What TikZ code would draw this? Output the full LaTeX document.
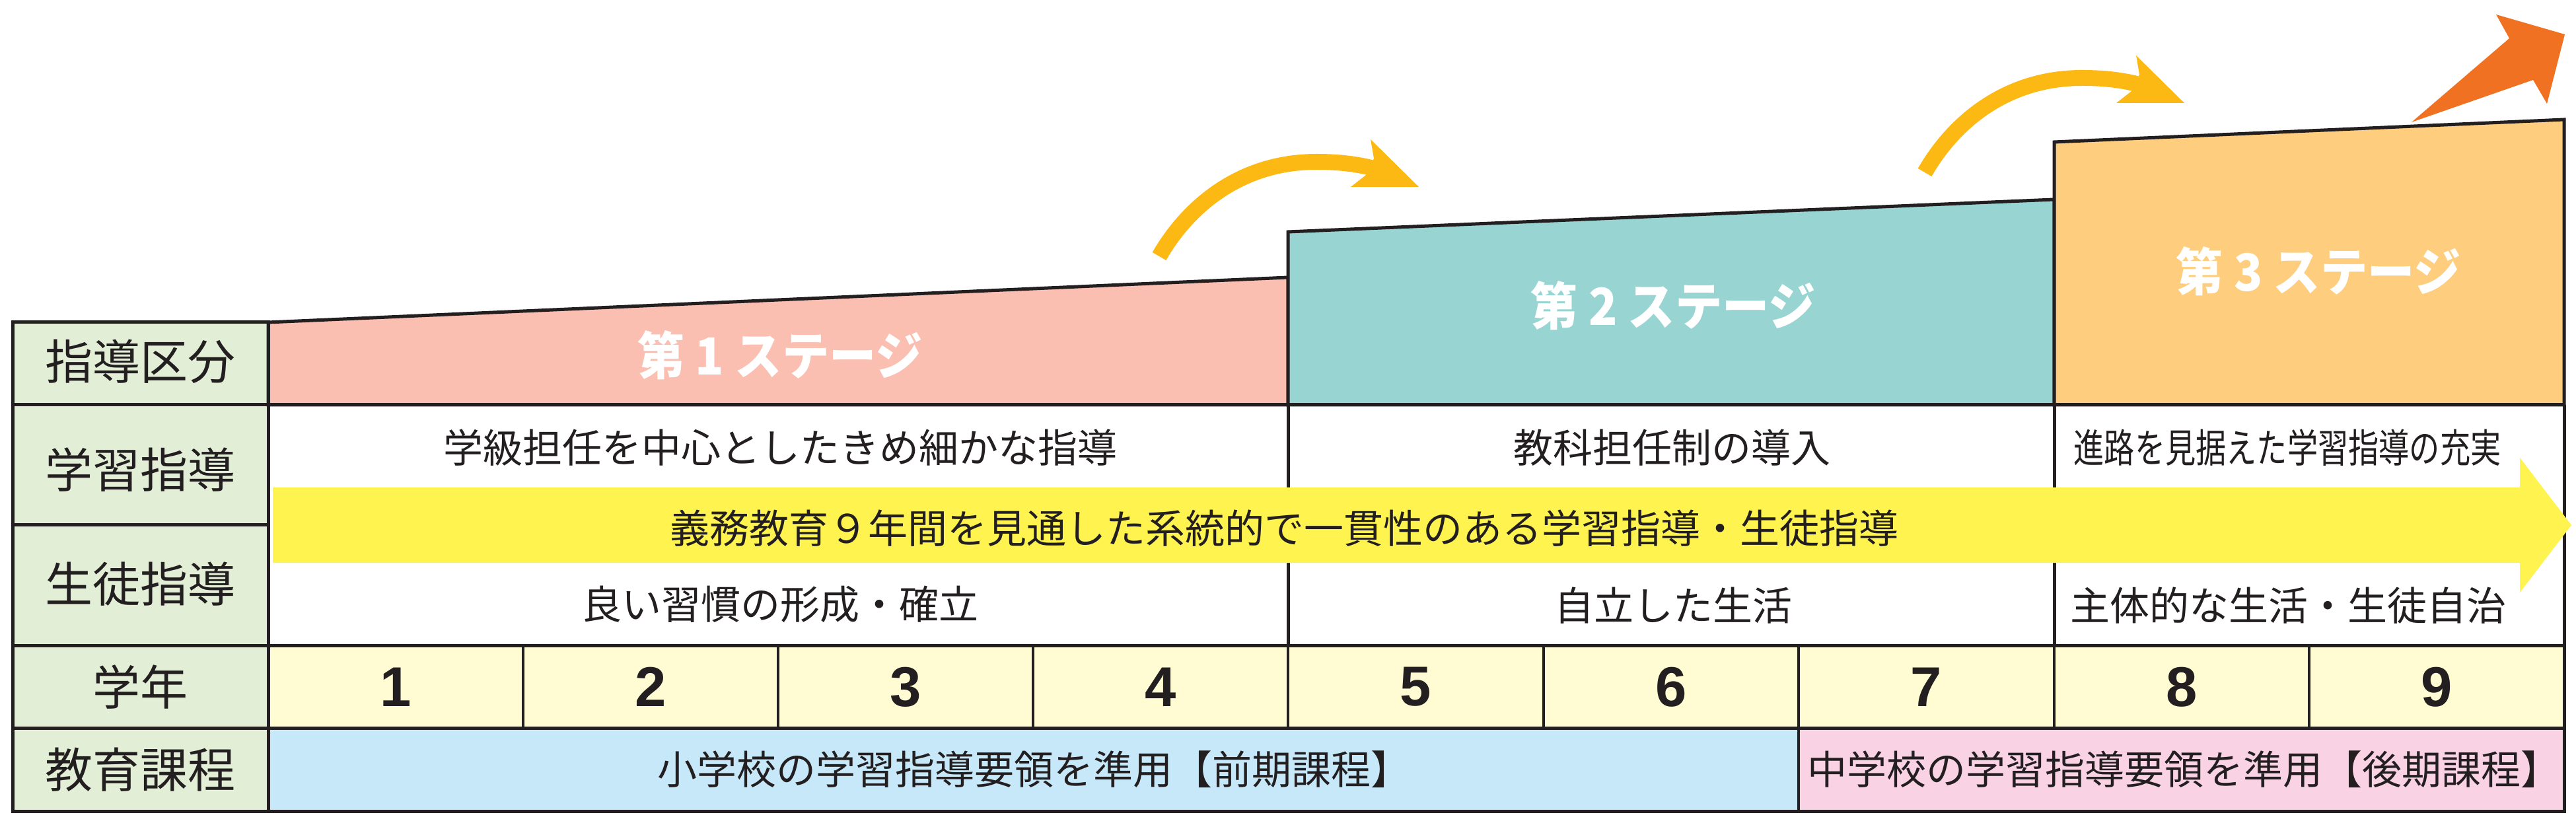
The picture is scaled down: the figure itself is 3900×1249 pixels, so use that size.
\documentclass[tikz,border=0pt]{standalone}
\usepackage{fontspec}
\usepackage{graphicx}
\newfontfamily\jp{Noto Sans CJK JP}
\newfontfamily\num{Liberation Sans}
\definecolor{ink}{HTML}{231F20}
\definecolor{leftgreen}{HTML}{E2EFD6}
\definecolor{stageone}{HTML}{FABFB0}
\definecolor{stagetwo}{HTML}{98D5D2}
\definecolor{stagethree}{HTML}{FECD7D}
\definecolor{bandyellow}{HTML}{FFF44F}
\definecolor{cream}{HTML}{FFFBD3}
\definecolor{paleblue}{HTML}{C6E8F8}
\definecolor{palepink}{HTML}{F9D3E4}
\definecolor{arrowyellow}{HTML}{FCB913}
\definecolor{arroworange}{HTML}{F07122}
\tikzset{
  lbl/.style={font=\jp\fontsize{14.4}{16}\selectfont, text=ink, inner sep=0pt},
  body/.style={font=\jp\fontsize{12}{14}\selectfont, text=ink, inner sep=0pt},
  stagelbl/.style={font=\jp\bfseries\fontsize{15.5}{17}\selectfont, text=white, inner sep=0pt},
  grade/.style={font=\num\bfseries\fontsize{17}{19}\selectfont, text=ink, inner sep=0pt},
  rule/.style={draw=ink, line width=1pt, line join=miter},
  thinrule/.style={draw=ink, line width=0.8pt},
  curvy/.style={draw=arrowyellow, line width=4.8pt},
}
\begin{document}
\begin{tikzpicture}[x=0.2pt,y=-0.2pt]
\useasboundingbox (0,0) rectangle (3900,1249);
% fills
\fill[leftgreen] (19,488) rectangle (406,1228);
\fill[cream] (406,977) rectangle (3882,1102);
\fill[paleblue] (406,1102) rectangle (2723,1228);
\fill[palepink] (2723,1102) rectangle (3882,1228);
% stages
\filldraw[rule, fill=stageone] (406,613) -- (406,488) -- (1950,420) -- (1950,613) -- cycle;
\filldraw[rule, fill=stagetwo] (1950,613) -- (1950,351) -- (3110,302) -- (3110,613) -- cycle;
\filldraw[rule, fill=stagethree] (3110,613) -- (3110,215) -- (3882,181) -- (3882,613) -- cycle;
% table lines
\draw[rule] (19,488) rectangle (406,1228);
\draw[rule] (19,613) -- (3882,613);
\draw[rule] (19,795) -- (406,795);
\draw[rule] (19,977) -- (3882,977);
\draw[rule] (19,1102) -- (3882,1102);
\draw[rule] (406,1228) -- (3882,1228) -- (3882,613);
\draw[rule] (1950,613) -- (1950,977);
\draw[rule] (3110,613) -- (3110,977);
\foreach \cx in {792,1178,1564,1950,2337,2723,3110,3496}
  \draw[thinrule] (\cx,977) -- (\cx,1102);
\draw[thinrule] (2723,1102) -- (2723,1228);
% yellow band arrow
\fill[bandyellow] (413,738) -- (3815,738) -- (3815,693) -- (3893,795) -- (3815,897) -- (3815,852) -- (413,852) -- cycle;
% curved arrows
\foreach \sx/\sy in {0/0, 1159/-127}{
  \begin{scope}[shift={(\sx,\sy)}]
    \draw[curvy] (1755,388) .. controls (1800,310) and (1880,245) .. (1993,245)
                 .. controls (2030,245) and (2055,249) .. (2076,254);
    \fill[arrowyellow] (2075,211) -- (2148,283) -- (2045,283) -- (2068,265) -- (2080,240) -- cycle;
  \end{scope}
}
% orange arrow
\fill[arroworange] (3651,185) -- (3799,58) -- (3779,22) -- (3883,52) -- (3856,157) -- (3835,121) -- cycle;
% left labels
\node[lbl] (hdA) at (212,547) {指導区分};
\node[lbl] (hdB) at (212,711) {学習指導};
\node[lbl] (hdC) at (212,884) {生徒指導};
\node[lbl] (hdD) at (212,1040) {学年};
\node[lbl] (hdE) at (212,1165) {教育課程};
% stage labels
\node[stagelbl] (st1) at (1181,538) {\scalebox{0.92}[1]{第 1 ステージ}};
\node[stagelbl] (st2) at (2533,463) {\scalebox{0.92}[1]{第 2 ステージ}};
\node[stagelbl] (st3) at (3510,411) {\scalebox{0.92}[1]{第 3 ステージ}};
% learning row
\node[body] (ga1) at (1181,678) {学級担任を中心としたきめ細かな指導};
\node[body] (ga2) at (2531,678) {教科担任制の導入};
\node[body] (ga3) at (3463,678) {\scalebox{0.77}[1]{進路を見据えた学習指導の充実}};
% band text
\node[body] (band) at (1944,800) {義務教育９年間を見通した系統的で一貫性のある学習指導・生徒指導};
% student row
\node[body] (sd1) at (1181,915) {良い習慣の形成・確立};
\node[body] (sd2) at (2533,917) {自立した生活};
\node[body] (sd3) at (3464,917) {主体的な生活・生徒自治};
% grades
\foreach \g/\gx in {1/599,2/985,3/1371,4/1757,5/2143,6/2530,7/2916,8/3303,9/3689}
  \node[grade] (gr\g) at (\gx,1040) {\g};
% curriculum
\node[body] (cu1) at (1565,1165) {小学校の学習指導要領を準用【前期課程】};
\node[body] (cu2) at (3306,1165) {中学校の学習指導要領を準用【後期課程】};
\end{tikzpicture}
\end{document}
